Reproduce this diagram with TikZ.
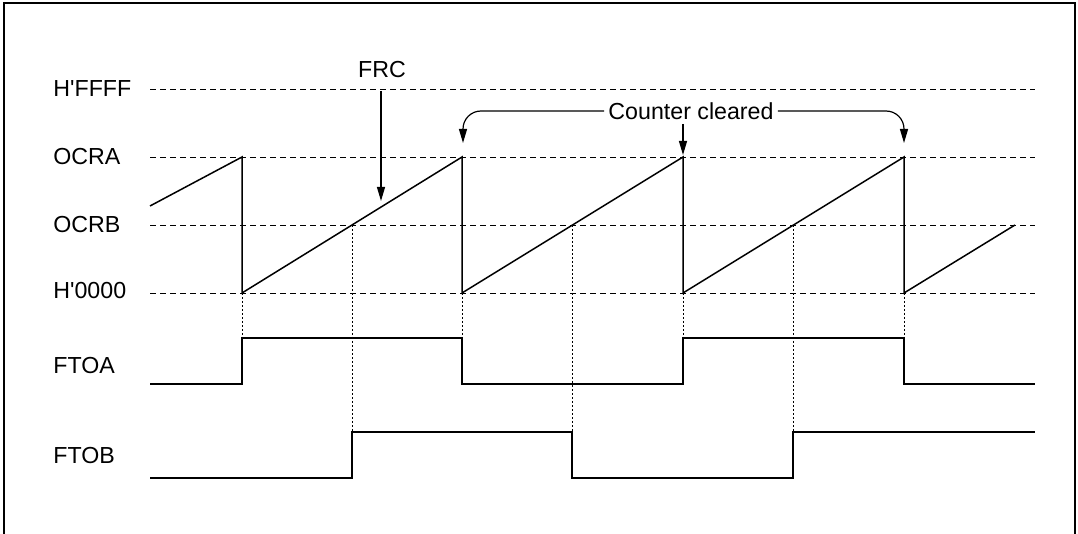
\documentclass[tikz,border=0pt]{standalone}
\usepackage{fontspec}
\setmainfont{Liberation Sans}
\usetikzlibrary{arrows.meta}

\begin{document}
\begin{tikzpicture}[
  x=0.5pt, y=-0.5pt,
  font=\fontsize{11.6}{13}\selectfont,
  lbl/.style={anchor=west, inner sep=0pt},
  level/.style={dash pattern=on 3pt off 2pt, line width=0.45pt},
  guide/.style={dash pattern=on 1pt off 1pt, line width=0.5pt},
  wave/.style={line width=0.75pt},
  arr/.style={-{Triangle[length=7pt,width=4pt]}, line width=0.6pt}
]
\useasboundingbox (0,0) rectangle (1078,534);
% frame (open at the bottom)
\draw[line width=0.9pt] (4,560) rectangle (1075,3);
% level labels
\node[lbl] (hffff) at (53,89)  {H\textquotesingle FFFF};
\node[lbl] (ocra)  at (53,157) {OCRA};
\node[lbl] (ocrb)  at (53,225) {OCRB};
\node[lbl] (h0000) at (53,291) {H\textquotesingle 0000};
\node[lbl] (ftoa)  at (53,366) {FTOA};
\node[lbl] (ftob)  at (53,456) {FTOB};
% level lines
\foreach \y in {89,157,225,293}
  \draw[level] (150,\y) -- (1035,\y);
% FRC sawtooth
\draw[wave] (150,206) -- (242,157) -- (242,293) -- (462,157) -- (462,293)
  -- (683,157) -- (683,293) -- (904,157) -- (904,293) -- (1015,225);
% dotted guides
\foreach \x in {242,462,683,904}
  \draw[guide] (\x,293) -- (\x,338);
\foreach \x in {352,572,793}
  \draw[guide] (\x,225) -- (\x,432);
% FTOA output
\draw[wave] (150,384) -- (242,384) -- (242,338) -- (462,338) -- (462,384)
  -- (683,384) -- (683,338) -- (904,338) -- (904,384) -- (1035,384);
% FTOB output
\draw[wave] (150,478) -- (352,478) -- (352,432) -- (572,432) -- (572,478)
  -- (793,478) -- (793,432) -- (1035,432);
% FRC pointer
\node (frc) at (382,70) {FRC};
\coordinate (frctop) at (381,91);
\coordinate (frctip) at (381,201);
\draw[arr] (frctop) -- (frctip);
% counter cleared pointers
\node[inner sep=2pt] (cc) at (691,111) {Counter cleared};
\coordinate (clr1) at (463,143);
\coordinate (clr2) at (683,155);
\coordinate (clr3) at (904,143);
\draw[arr, rounded corners=9pt] (cc.west) -| (clr1);
\draw[arr, rounded corners=9pt] (cc.east) -| (clr3);
\draw[arr] (cc.south -| clr2) -- (clr2);
\end{tikzpicture}
\end{document}
